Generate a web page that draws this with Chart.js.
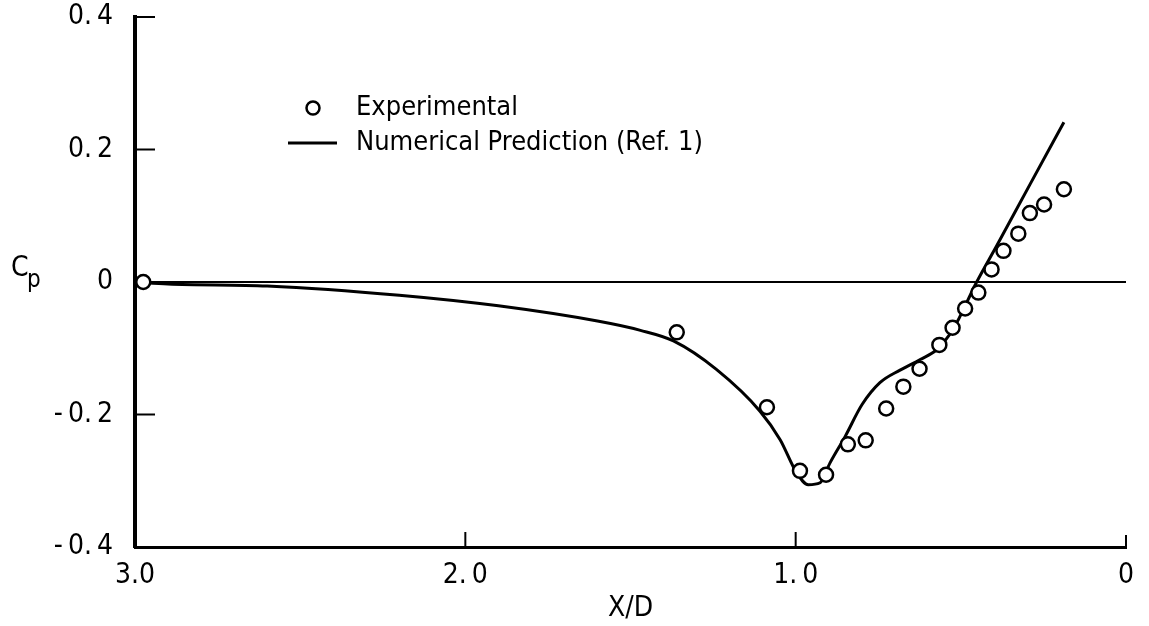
<!DOCTYPE html>
<html>
<head>
<meta charset="utf-8">
<script src="https://cdn.jsdelivr.net/npm/chart.js@4.4.0/dist/chart.umd.min.js"></script>
<style>
  html, body { margin: 0; padding: 0; background: #fff; }
  #wrap { width: 1149px; height: 626px; position: relative; }
</style>
</head>
<body>
<div id="wrap"><canvas id="cp-chart"></canvas></div>
<script>
const FONT = "'Liberation Sans Narrow', 'DejaVu Sans Condensed', 'Roboto Condensed', Roboto, sans-serif";

// axis ticks
const xTicks = [3, 2, 1, 0];
const xTickLabels = ["3.0", "2.\u20090", "1.\u20090", "0"];
const yTicks = [0.4, 0.2, 0, -0.2, -0.4];
const yTickLabels = ["0.\u20094", "0.\u20092", "0", "-\u20090.\u20092", "-\u20090.\u20094"];

// experimental points
const xExp = [2.975, 1.36, 1.087, 0.987, 0.908, 0.842, 0.788, 0.726, 0.674, 0.625,
  0.565, 0.525, 0.487, 0.447, 0.407, 0.371, 0.326, 0.291, 0.248, 0.188];
const cpExp = [0.0, -0.076, -0.189, -0.285, -0.291, -0.245, -0.239, -0.191, -0.158, -0.131,
  -0.095, -0.069, -0.040, -0.016, 0.019, 0.047, 0.073, 0.104, 0.117, 0.140];

// numerical prediction (Ref. 1)
const xPred = [3.0, 2.9, 2.6, 2.2, 1.9, 1.6, 1.47, 1.37, 1.24, 1.108, 1.047, 0.997, 0.962, 0.926,
  0.896, 0.85, 0.799, 0.745, 0.684, 0.623, 0.573, 0.523, 0.452, 0.391, 0.291, 0.188];
const cpPred = [0, -0.003, -0.006, -0.020, -0.036, -0.059, -0.073, -0.089, -0.132, -0.195, -0.238, -0.288, -0.306, -0.303,
  -0.273, -0.233, -0.185, -0.152, -0.133, -0.117, -0.102, -0.071, 0, 0.055, 0.147, 0.241];

const legendItems = ["Experimental", "Numerical Prediction (Ref. 1)"];

const tickFont = { family: FONT, size: 28 };

const extras = {
  id: "extras",
  afterDraw(chart) {
    const { ctx, chartArea } = chart;
    const xs = chart.scales.x;
    const ys = chart.scales.y;
    ctx.save();
    ctx.strokeStyle = "#000";
    ctx.fillStyle = "#000";

    // inward tick marks
    ctx.lineWidth = 2;
    [0.4, 0.2, -0.2].forEach((v) => {
      const py = ys.getPixelForValue(v);
      ctx.beginPath();
      ctx.moveTo(chartArea.left, py);
      ctx.lineTo(chartArea.left + 20, py);
      ctx.stroke();
    });
    [2, 1, 0].forEach((v) => {
      const px = xs.getPixelForValue(v);
      ctx.beginPath();
      ctx.moveTo(px, chartArea.bottom);
      ctx.lineTo(px, chartArea.bottom - (v === 0 ? 12 : 15));
      ctx.stroke();
    });

    // C_p label
    ctx.textAlign = "left";
    ctx.textBaseline = "alphabetic";
    ctx.font = "28px " + FONT;
    ctx.fillText("C", 11, 276);
    ctx.font = "24px " + FONT;
    ctx.fillText("p", 27, 287);

    // legend
    ctx.lineWidth = 2.5;
    ctx.beginPath();
    ctx.arc(313, 108, 6.5, 0, Math.PI * 2);
    ctx.stroke();
    ctx.lineWidth = 3;
    ctx.beginPath();
    ctx.moveTo(288, 143);
    ctx.lineTo(337, 143);
    ctx.stroke();
    ctx.font = "27px " + FONT;
    ctx.textBaseline = "middle";
    ctx.fillText(legendItems[0], 356, 108);
    ctx.fillText(legendItems[1], 356, 143);
    ctx.restore();
  }
};

new Chart(document.getElementById("cp-chart"), {
  type: "scatter",
  data: {
    datasets: [
      {
        label: legendItems[0],
        data: xExp.map((x, i) => ({ x, y: cpExp[i] })),
        showLine: false,
        pointStyle: "circle",
        pointRadius: 7,
        pointBorderWidth: 2.5,
        pointBorderColor: "#000",
        pointBackgroundColor: "#fff",
        order: 0
      },
      {
        type: "line",
        label: legendItems[1],
        data: xPred.map((x, i) => ({ x, y: cpPred[i] })),
        borderColor: "#000",
        borderWidth: 3,
        pointRadius: 0,
        fill: false,
        cubicInterpolationMode: "monotone",
        order: 1
      }
    ]
  },
  options: {
    responsive: true,
    maintainAspectRatio: false,
    animation: false,
    layout: { padding: { top: 17, right: 23, left: 0, bottom: 0 } },
    plugins: { legend: { display: false }, tooltip: { enabled: false } },
    scales: {
      x: {
        type: "linear",
        reverse: true,
        min: 0,
        max: 3,
        afterBuildTicks: (s) => { s.ticks = xTicks.map((v) => ({ value: v })); },
        afterFit: (s) => { s.height = 79; s.paddingLeft = 0; s.paddingRight = 0; },
        ticks: {
          callback: (v, i) => xTickLabels[i],
          font: tickFont,
          color: "#000",
          padding: 12,
          maxRotation: 0,
          autoSkip: false
        },
        grid: { display: false, drawTicks: false },
        border: { display: true, color: "#000", width: 3 },
        title: {
          display: true,
          text: "X/D",
          font: tickFont,
          color: "#000",
          padding: { top: 0, bottom: 0 }
        }
      },
      y: {
        type: "linear",
        min: -0.4,
        max: 0.4,
        afterBuildTicks: (s) => { s.ticks = yTicks.map((v) => ({ value: v })); },
        afterFit: (s) => { s.width = 135; s.paddingTop = 0; s.paddingBottom = 0; },
        ticks: {
          callback: (v, i) => yTickLabels[i],
          font: tickFont,
          color: "#000",
          padding: 22,
          autoSkip: false
        },
        grid: {
          drawTicks: false,
          lineWidth: 2,
          color: (ctx) => (ctx.tick && ctx.tick.value === 0 ? "#000" : "rgba(0,0,0,0)")
        },
        border: { display: true, color: "#000", width: 4 }
      }
    }
  },
  plugins: [extras]
});
</script>
</body>
</html>
